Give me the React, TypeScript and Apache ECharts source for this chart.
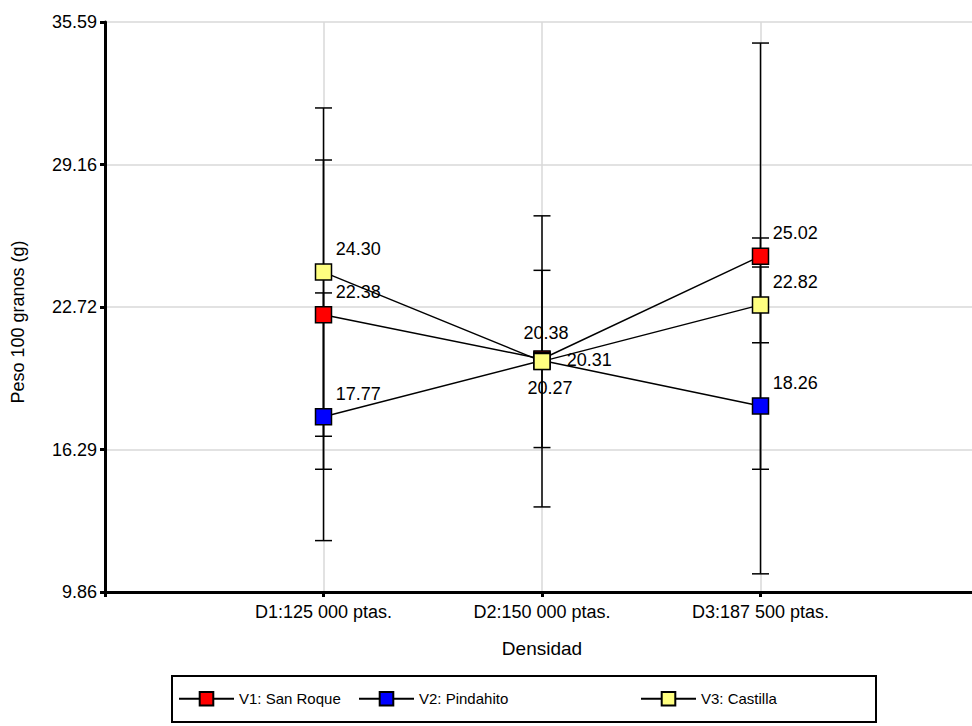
import React, { useEffect, useRef } from 'react';
import * as echarts from 'echarts';

const categories = ['D1:125 000 ptas.', 'D2:150 000 ptas.', 'D3:187 500 ptas.'];
const seriesNames = ['V1: San Roque', 'V2: Pindahito', 'V3: Castilla'];
const v1Means = [22.38, 20.38, 25.02];
const v2Means = [17.77, 20.31, 18.26];
const v3Means = [24.3, 20.27, 22.82];
const v1Err = [6.98, 4.0, 9.62];
const v2Err = [5.59, 0.4, 7.58];
const v3Err = [7.41, 6.57, 1.71];
const yTickLabels = ['9.86', '16.29', '22.72', '29.16', '35.59'];

const yMin = 9.86;
const yMax = 35.59;
const yInterval = (yMax - yMin) / 4;
const colors = ['#ff0000', '#0000ff', '#ffff80'];
const FONT = "Arial, 'Liberation Sans', sans-serif";

// label placement per series per category
const placements = [
  ['ur', 'top', 'ur'],
  ['ur', 'right', 'ur'],
  ['ur', 'bottom', 'ur'],
];

function labelFor(p: string) {
  const base = { show: true, fontSize: 18, fontFamily: FONT, color: '#000', formatter: (q: any) => q.value[1].toFixed(2) };
  if (p === 'ur') return { ...base, position: [21, -23] };
  if (p === 'top') return { ...base, position: 'top', distance: 8, offset: [4, 0] };
  if (p === 'right') return { ...base, position: 'right', distance: 16 };
  return { ...base, position: 'bottom', distance: 9, offset: [8, 0] };
}

export default function App() {
  const ref = useRef<HTMLDivElement>(null);
  useEffect(() => {
    const chart = echarts.init(ref.current!, null, { renderer: 'svg' });
    const means = [v1Means, v2Means, v3Means];
    const errs = [v1Err, v2Err, v3Err];

    const errSeries = means.map((m, si) => ({
      type: 'custom',
      name: seriesNames[si] + ' error',
      z: 1,
      silent: true,
      coordinateSystem: 'cartesian2d',
      encode: { x: 0, y: [1, 2] },
      data: m.map((v, i) => [i + 1, v - errs[si][i], v + errs[si][i]]),
      renderItem: (params: any, api: any) => {
        const x = api.value(0);
        const lo = api.coord([x, api.value(1)]);
        const hi = api.coord([x, api.value(2)]);
        const w = 8.5;
        const st = { stroke: '#000', lineWidth: 1.5 };
        return {
          type: 'group',
          children: [
            { type: 'line', shape: { x1: hi[0], y1: hi[1], x2: lo[0], y2: lo[1] }, style: st },
            { type: 'line', shape: { x1: hi[0] - w, y1: hi[1], x2: hi[0] + w, y2: hi[1] }, style: st },
            { type: 'line', shape: { x1: lo[0] - w, y1: lo[1], x2: lo[0] + w, y2: lo[1] }, style: st },
          ],
        };
      },
    }));

    const lineSeries = means.map((m, si) => ({
      type: 'line',
      name: seriesNames[si],
      z: 3,
      symbol: 'rect',
      symbolSize: 16,
      lineStyle: { color: '#000', width: 1.5 },
      itemStyle: { color: colors[si], borderColor: '#000', borderWidth: 1.5 },
      data: m.map((v, i) => ({ value: [i + 1, v], label: labelFor(placements[si][i]) })),
    }));

    const legendLefts = [178, 358, 640];

    chart.setOption({
      animation: false,
      backgroundColor: '#fff',
      textStyle: { fontFamily: FONT },
      grid: { left: 105, top: 22, bottom: 134, right: 0, containLabel: false },
      xAxis: {
        type: 'value',
        min: 0,
        max: 4,
        interval: 1,
        name: 'Densidad',
        nameLocation: 'middle',
        nameGap: 47,
        nameTextStyle: { fontSize: 19, color: '#000', fontFamily: FONT },
        axisLine: { lineStyle: { color: '#000', width: 3 } },
        axisTick: { show: true, length: 5, lineStyle: { color: '#000', width: 3 } },
        axisLabel: {
          fontSize: 18,
          color: '#000',
          fontFamily: FONT,
          margin: 11,
          formatter: (v: number) => (v >= 1 && v <= 3 ? categories[Math.round(v) - 1] : ''),
        },
        splitLine: { show: true, lineStyle: { color: '#d8d8d8', width: 1.5 } },
      },
      yAxis: {
        type: 'value',
        min: yMin,
        max: yMax,
        interval: yInterval,
        name: 'Peso 100 granos (g)',
        nameLocation: 'middle',
        nameGap: 78,
        nameTextStyle: { fontSize: 18, color: '#000', fontFamily: FONT, padding: [0, 30, 0, 0] },
        axisLine: { show: true, lineStyle: { color: '#000', width: 3 } },
        axisTick: { show: true, length: 5, lineStyle: { color: '#000', width: 3 } },
        axisLabel: {
          fontSize: 18,
          color: '#000',
          fontFamily: FONT,
          margin: 8,
          formatter: (v: number) => yTickLabels[Math.round((v - yMin) / yInterval)] ?? '',
        },
        splitLine: { show: true, lineStyle: { color: '#d8d8d8', width: 1.5 } },
      },
      legend: seriesNames.map((n, i) => ({
        data: [n],
        left: legendLefts[i],
        top: 691,
        padding: 0,
        itemWidth: 55,
        itemHeight: 17,
        itemGap: 0,
        selectedMode: false,
        textStyle: { fontSize: 15, color: '#000', fontFamily: FONT },
      })),
      graphic: [
        {
          type: 'rect',
          shape: { x: 172, y: 676, width: 704, height: 46 },
          style: { fill: 'none', stroke: '#000', lineWidth: 2 },
          silent: true,
        },
      ],
      series: [...errSeries, ...lineSeries],
    });
    return () => chart.dispose();
  }, []);
  return <div ref={ref} style={{ position: 'fixed', left: 0, top: 0, width: 982, height: 726 }} />;
}
